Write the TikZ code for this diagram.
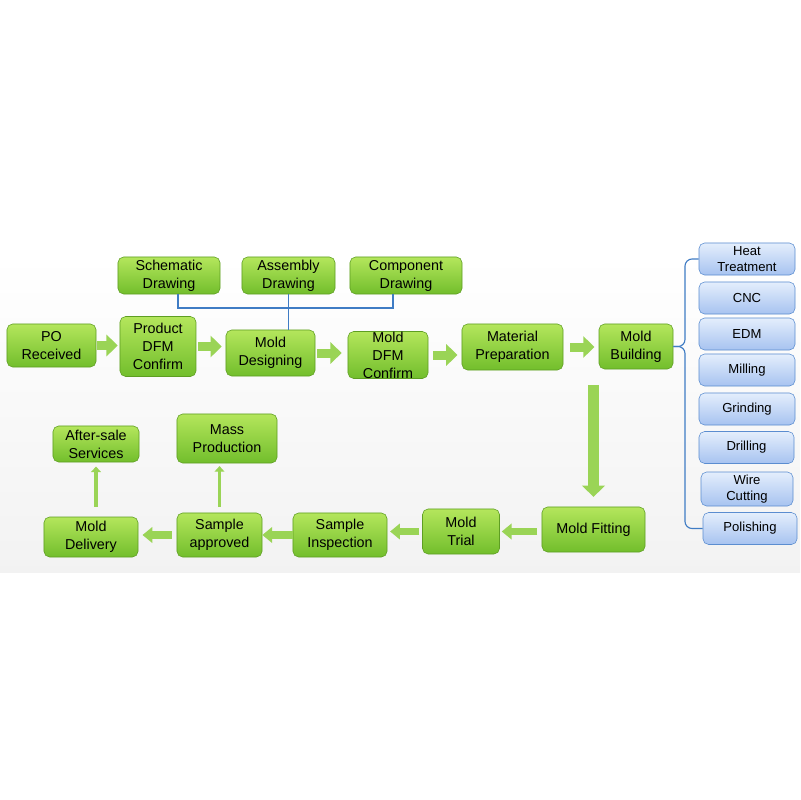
\documentclass[tikz,border=0pt]{standalone}
\usepackage{fontspec}
\setmainfont{Liberation Sans}
\usetikzlibrary{arrows.meta,calc,positioning,shapes}
\definecolor{GreenTop}{HTML}{B4E65C}
\definecolor{GreenBot}{HTML}{72BE2C}
\definecolor{GreenLine}{HTML}{5E9E22}
\definecolor{ArrowGreen}{HTML}{9AD456}
\definecolor{BlueTop}{HTML}{E4EEFC}
\definecolor{BlueBot}{HTML}{A7C3F0}
\definecolor{BlueLine}{HTML}{5B8DD0}
\definecolor{LinkBlue}{HTML}{3F7CC4}
\tikzstyle{gbox} = [rectangle, rounded corners=4pt, draw=GreenLine, top color=GreenTop, bottom color=GreenBot, align=center, inner sep=0pt, font=\fontsize{10.2}{12.8}\selectfont]
\tikzstyle{bbox} = [rectangle, rounded corners=4pt, draw=BlueLine, top color=BlueTop, bottom color=BlueBot, align=center, inner sep=0pt, minimum width=2.4cm, minimum height=0.8cm, font=\fontsize{9.3}{11.3}\selectfont]
\tikzstyle{harrow} = [draw=ArrowGreen, line width=6.4pt, -{Triangle[width=15pt,length=8pt]}]
\tikzstyle{larrow} = [draw=ArrowGreen, line width=5pt, -{Triangle[width=11pt,length=7pt]}]
\tikzstyle{darrow} = [draw=ArrowGreen, line width=8.5pt, -{Triangle[width=16pt,length=8pt]}]
\tikzstyle{uarrow} = [draw=ArrowGreen, line width=2.8pt, -{Triangle[width=7pt,length=4pt]}]
\tikzstyle{bline} = [draw=LinkBlue, line width=0.8pt]

\begin{document}
\begin{tikzpicture}[x=0.025cm, y=-0.025cm]
\useasboundingbox (0,0) rectangle (800,800);
\fill[white] (0,0) rectangle (800,800);
\shade[top color=white, bottom color=black!5] (0,255) rectangle (800,572);
% drawings
\node[gbox, minimum width=2.55cm, minimum height=0.925cm] (sch) at (169,275.5) {Schematic\\Drawing};
\node[gbox, minimum width=2.325cm, minimum height=0.925cm] (asm) at (288.5,275.5) {Assembly\\Drawing};
\node[gbox, minimum width=2.8cm, minimum height=0.925cm] (comp) at (406,275.5) {Component\\Drawing};
% top row
\node[gbox, minimum width=2.225cm, minimum height=1.075cm] (po) at (51.5,345.5) {PO\\Received};
\node[gbox, minimum width=1.9cm, minimum height=1.5cm] (pdfm) at (158,346.5) {Product\\DFM\\Confirm};
\node[gbox, minimum width=2.225cm, minimum height=1.15cm] (mdes) at (270.5,353) {Mold\\Designing};
\node[gbox, minimum width=2cm, minimum height=1.175cm] (mdfm) at (388,355) {Mold\\DFM\\Confirm};
\node[gbox, minimum width=2.525cm, minimum height=1.15cm] (mat) at (512.5,347) {Material\\Preparation};
\node[gbox, minimum width=1.85cm, minimum height=1.125cm] (mb) at (636,346.5) {Mold\\Building};
% bottom row
\node[gbox, minimum width=2.575cm, minimum height=1.125cm] (mfit) at (593.5,529.5) {Mold Fitting};
\node[gbox, minimum width=1.925cm, minimum height=1.125cm] (mtrial) at (461,531.5) {Mold\\Trial};
\node[gbox, minimum width=2.35cm, minimum height=1.1cm] (sins) at (340,535) {Sample\\Inspection};
\node[gbox, minimum width=2.125cm, minimum height=1.1cm] (sapp) at (219.5,535) {Sample\\approved};
\node[gbox, minimum width=2.35cm, minimum height=1cm] (mdel) at (91,537) {Mold\\Delivery};
\node[gbox, minimum width=2.15cm, minimum height=0.9cm] (after) at (96,444) {After-sale\\Services};
\node[gbox, minimum width=2.5cm, minimum height=1.225cm] (mass) at (227,438.5) {Mass\\Production};
% machining
\node[bbox] (heat) at (747,259) {Heat\\Treatment};
\node[bbox] (cnc) at (747,298) {CNC};
\node[bbox] (edm) at (747,334) {EDM};
\node[bbox] (mill) at (747,370) {Milling};
\node[bbox] (grind) at (747,409) {Grinding};
\node[bbox, minimum width=2.375cm] (drill) at (746.5,447.5) {Drilling};
\node[bbox, minimum width=2.3cm, minimum height=0.85cm] (wire) at (747,489) {Wire\\Cutting};
\node[bbox, minimum width=2.35cm] (pol) at (750,528.5) {Polishing};
% links
\coordinate (busL) at (178,308);
\coordinate (busR) at (393,308);
\coordinate (brc) at (685,300);
\draw[bline] (sch.south -| busL) -- (busL) -- (busR) -- (comp.south -| busR);
\draw[bline] (asm.south) -- (asm.south |- mdes.north);
\draw[bline, rounded corners=5pt] (heat.west) -| (mb.east -| brc) -- (mb.east);
\draw[bline, rounded corners=5pt] (mb.east) -| (pol.west -| brc) -- (pol.west);
% flow
\draw[harrow, shorten <=0.7pt, shorten >=1.4pt] (po.east) -- (po.east -| pdfm.west);
\draw[harrow, shorten <=1.4pt, shorten >=2.8pt] (pdfm.east) -- (pdfm.east -| mdes.west);
\draw[harrow, shorten <=1.4pt, shorten >=4.3pt] (mdes.east) -- (mdes.east -| mdfm.west);
\draw[harrow, shorten <=3.5pt, shorten >=3pt] (mdfm.east) -- (mdfm.east -| mat.west);
\draw[harrow, shorten <=5pt, shorten >=3pt] (mat.east) -- (mat.east -| mb.west);
\draw[darrow, shorten <=11pt, shorten >=7pt] (mfit.north |- mb.south) -- (mfit.north);
\draw[larrow, shorten <=3pt, shorten >=1.4pt] (mtrial.east -| mfit.west) -- (mtrial.east);
\draw[larrow, shorten <=2pt, shorten >=2pt] (mtrial.west) -- (mtrial.west -| sins.east);
\draw[larrow] (sins.west) -- (sins.west -| sapp.east);
\draw[larrow, shorten <=3.5pt, shorten >=3pt] (sapp.west) -- (sapp.west -| mdel.east);
\draw[uarrow, shorten <=7pt, shorten >=3pt] (after.south |- mdel.north) -- (after.south);
\draw[uarrow, shorten <=4pt, shorten >=2pt] (sapp.north) -- (sapp.north |- mass.south);
\end{tikzpicture}
\end{document}
